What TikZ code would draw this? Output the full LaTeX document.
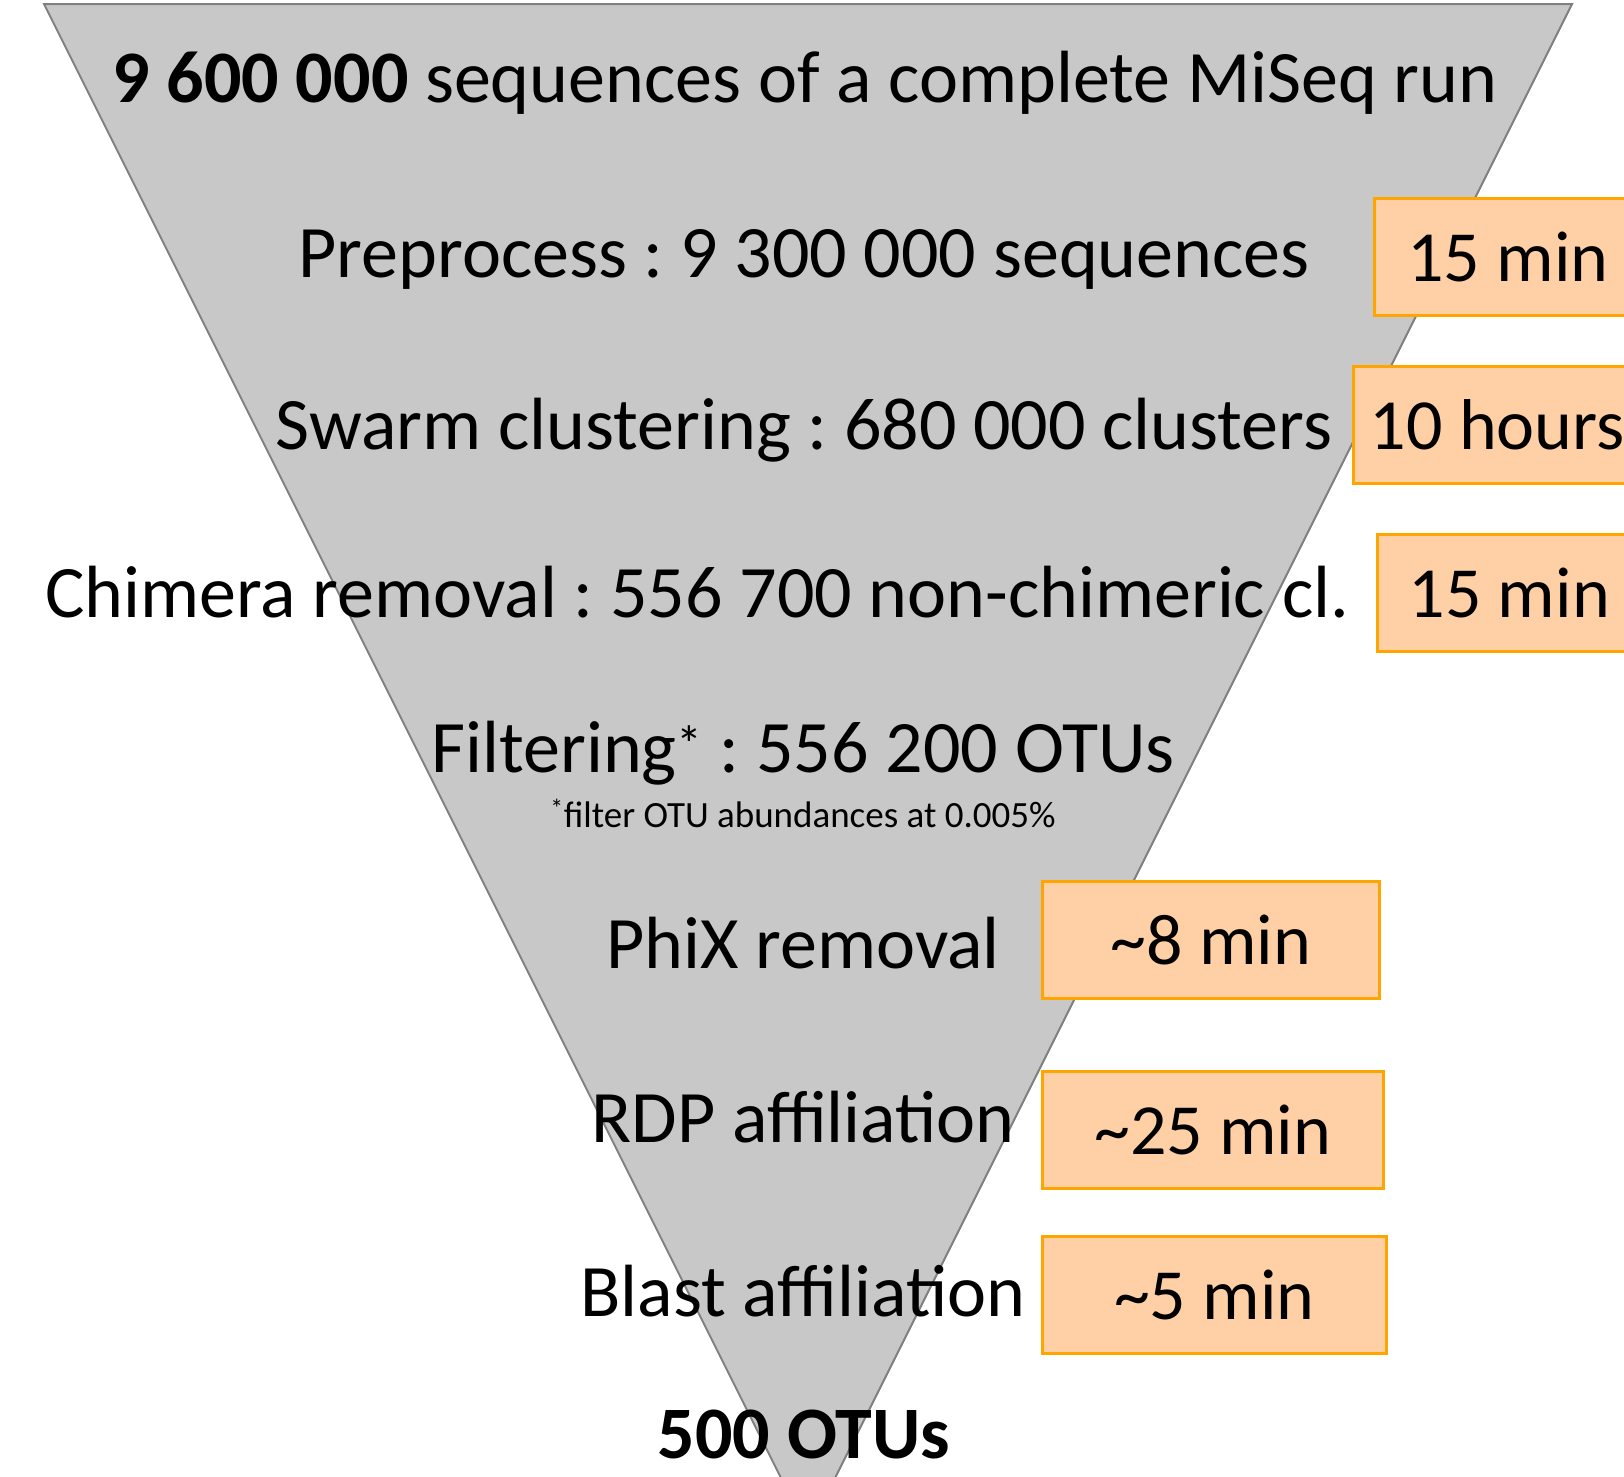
\documentclass[tikz,border=0pt]{standalone}
\usepackage{fontspec}
\setmainfont{Carlito}
\usepackage{xcolor}
\usepackage{tikz}
\frenchspacing

\definecolor{funnelgray}{RGB}{200,200,200}
\definecolor{edgegray}{RGB}{128,128,128}
\definecolor{peach}{RGB}{255,207,165}
\definecolor{boxorange}{RGB}{255,165,0}

\begin{document}
\begin{tikzpicture}[x=1pt,y=-1pt,
        stage/.style={anchor=base, inner sep=0pt, font=\fontsize{74}{88}\selectfont},
        note/.style={anchor=base, inner sep=0pt, font=\fontsize{37}{44}\selectfont},
        timebox/.style={draw=boxorange, line width=2.5pt, fill=peach, anchor=north west,
            minimum height=117pt, inner sep=0pt, font=\fontsize{72}{86}\selectfont}]
        \clip (0,0) rectangle (1624,1476);
        \fill[white] (0,0) rectangle (1624,1476);
        \filldraw[fill=funnelgray, draw=edgegray, line width=2pt] (44,4) -- (1572,4) -- (808,1532) -- cycle;
        \node[stage] (run) at (805,102) {\textbf{9 600 000} sequences of a complete MiSeq run};
        \node[stage] (prep) at (804,277) {Preprocess : 9 300 000 sequences};
        \node[stage] (swarm) at (804,449) {Swarm clustering : 680 000 clusters};
        \node[stage] (chim) at (697,617) {Chimera removal : 556 700 non-chimeric cl.};
        \node[stage] (filt) at (803,772) {Filtering\textsuperscript{*} : 556 200 OTUs};
        \node[note] (filtnote) at (803,827) {\textsuperscript{*}filter OTU abundances at 0.005\%};
        \node[stage] (phix) at (803,968) {PhiX removal};
        \node[stage] (rdp) at (803,1142) {RDP affiliation};
        \node[stage] (blast) at (803,1316) {Blast affiliation};
        \node[stage] (otus) at (804,1458) {\textbf{500 OTUs}};
        \node[timebox, minimum width=267pt] (tprep) at (1373,197) {15 min};
        \node[timebox, minimum width=288pt] (tswarm) at (1352,365) {10 hours};
        \node[timebox, minimum width=264pt] (tchim) at (1376,533) {15 min};
        \node[timebox, minimum width=337pt] (tphix) at (1041,880) {\textasciitilde8 min};
        \node[timebox, minimum width=341pt] (trdp) at (1041,1070) {\textasciitilde25 min};
        \node[timebox, minimum width=344pt] (tblast) at (1041,1235) {\textasciitilde5 min};
    \end{tikzpicture}
\end{document}
